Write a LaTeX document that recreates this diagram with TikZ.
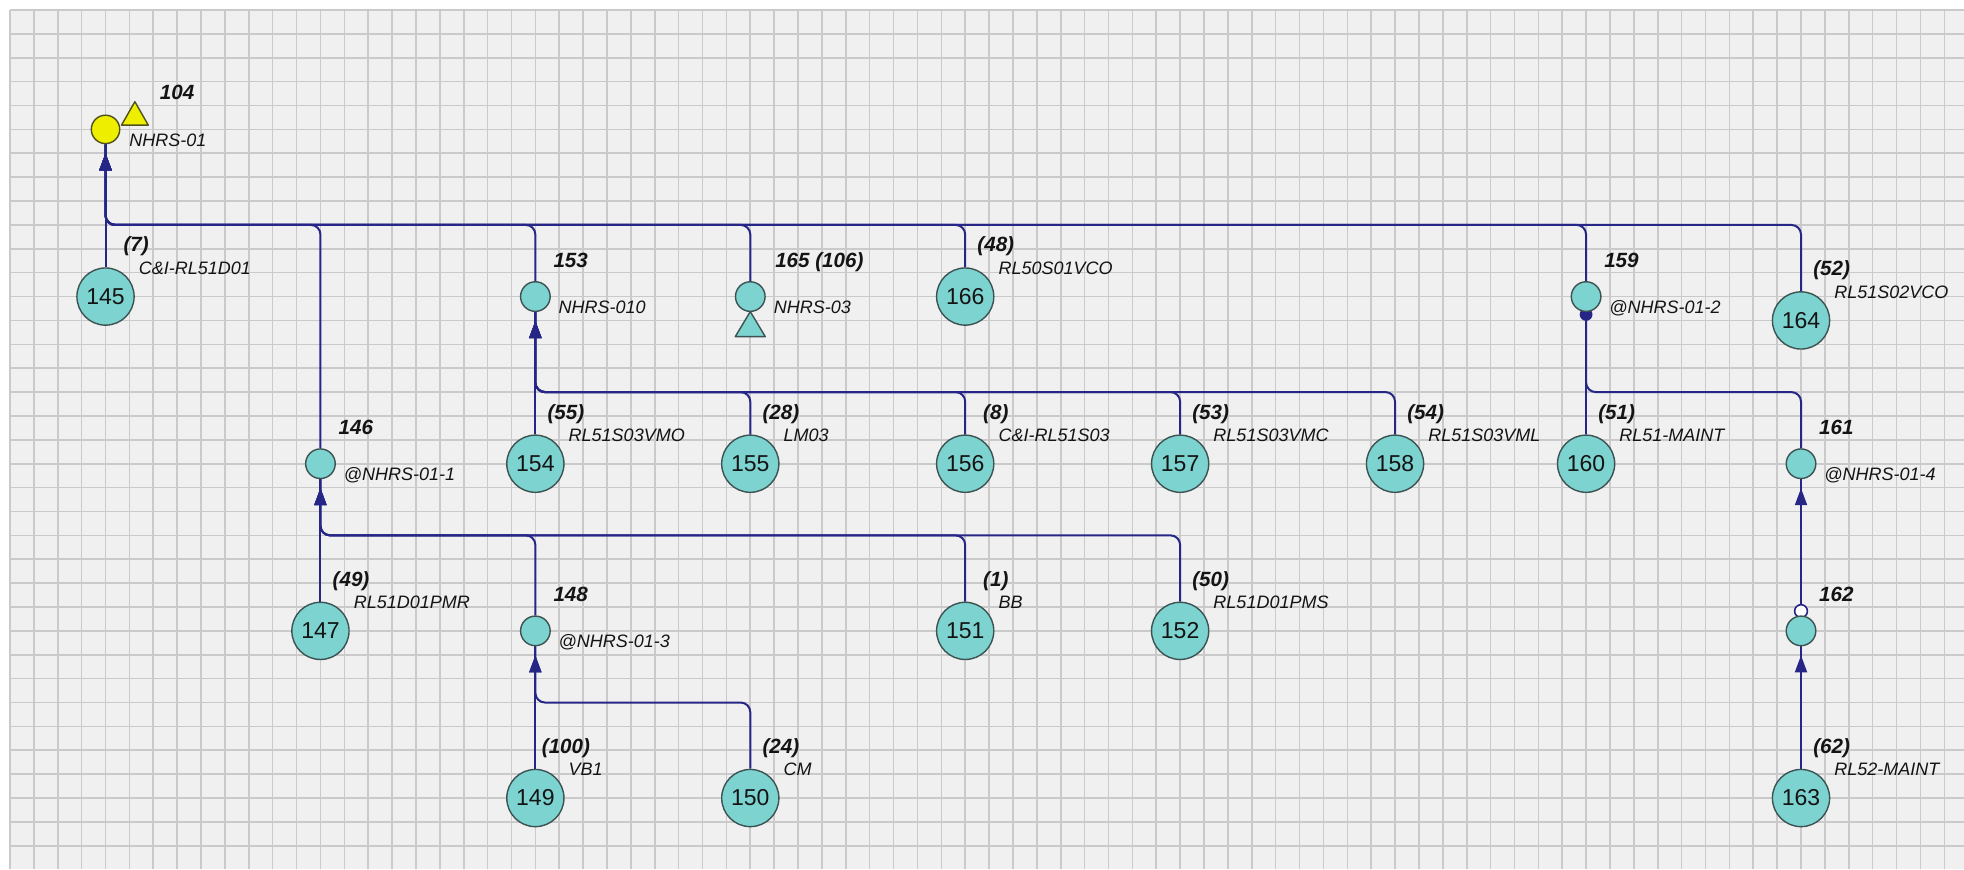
\documentclass[tikz,border=0pt]{standalone}
\usepackage{fontspec}
\setmainfont{Liberation Sans}
\usetikzlibrary{arrows.meta,decorations.markings,calc}
\pgfdeclarelayer{bg}
\pgfdeclarelayer{edges}
\pgfsetlayers{bg,edges,main}
\definecolor{gridbg}{HTML}{F0F0F0}
\definecolor{gridln}{HTML}{CACACA}
\definecolor{wirec}{HTML}{262687}
\definecolor{turq}{HTML}{7CD3D0}
\definecolor{nodeln}{HTML}{3D5252}
\definecolor{yel}{HTML}{EEEE00}
\definecolor{yelln}{HTML}{50501E}
\definecolor{txt}{HTML}{141414}
\tikzset{
  gridline/.style={draw=gridln, line width=0.8pt},
  big/.style={circle, draw=nodeln, fill=turq, line width=0.7pt, minimum size=28.6pt, inner sep=0pt,
    font=\fontsize{11.5}{12}\selectfont, text=txt},
  small/.style={circle, draw=nodeln, fill=turq, line width=0.7pt, minimum size=14.8pt, inner sep=0pt},
  yelnode/.style={circle, draw=yelln, fill=yel, line width=0.7pt, minimum size=14.2pt, inner sep=0pt},
  yelshape/.style={draw=yelln, fill=yel, line width=0.7pt, line join=round},
  turqshape/.style={draw=nodeln, fill=turq, line width=0.7pt, line join=round},
  idlab/.style={font=\bfseries\itshape\fontsize{10.3}{12}\selectfont, text=txt, inner sep=0pt,
    text height=7.4pt, text depth=0pt},
  namelab/.style={font=\itshape\fontsize{9}{11}\selectfont, text=txt, inner sep=0pt, anchor=west,
    text height=6.5pt, text depth=0pt},
  wire/.style={draw=wirec, line width=1pt, rounded corners=4.8pt},
  arrin/.style={postaction={decorate}, decoration={markings,
    mark=at position -4.5pt with {\arrow{Triangle[length=8.5pt,width=6pt,color=wirec]}}}},
}
\newcommand\BigN[6]{%
  \node[big] (#1) at (#2,#3) {#4};
  \node[idlab] (#1-id) at ($(#1)+(1.28,-2.18)$) {#5};
  \node[namelab] (#1-nm) at ($(#1)+(1.38,-1.2)$) {#6};
}
\newcommand\SmallN[5]{%
  \node[small] (#1) at (#2,#3) {};
  \node[idlab] (#1-id) at ($(#1)+(1.48,-1.53)$) {#4};
  \node[namelab] (#1-nm) at ($(#1)+(0.96,0.43)$) {#5};
}
\begin{document}
\begin{tikzpicture}[x=11.94pt, y=-11.94pt]
\useasboundingbox (-0.4188,-0.4188) rectangle (81.826,35.972);
\begin{pgfonlayer}{bg}
  \fill[white] (-0.4188,-0.4188) rectangle (81.826,35.972);
  \fill[gridbg] (0,0) rectangle (81.826,35.972);
  \foreach \i in {0,...,81} \draw[gridline] (\i,0) -- (\i,35.972);
  \foreach \j in {0,...,35} \draw[gridline] (0,\j) -- (81.826,\j);
\end{pgfonlayer}

% bus levels
\coordinate (b1) at (0,9);
\coordinate (b2) at (0,16);
\coordinate (b4) at (0,22);
\coordinate (b5) at (0,29);

% root 104
\node[yelnode] (n104) at (4,5) {};
\draw[yelshape] ($(n104)+(1.23,-1.16)$) -- ($(n104)+(0.67,-0.18)$) -- ($(n104)+(1.79,-0.18)$) -- cycle;
\node[idlab] (n104-id) at (7.0,3.45) {104};
\node[namelab] (n104-nm) at (4.98,5.44) {NHRS-01};

% row 12
\BigN{n145}{4}{12}{145}{(7)}{C\&I-RL51D01}
\SmallN{n153}{22}{12}{153}{NHRS-010}
\node[small] (n165) at (31,12) {};
\draw[turqshape] ($(n165)+(0,0.63)$) -- ($(n165)+(-0.63,1.68)$) -- ($(n165)+(0.63,1.68)$) -- cycle;
\node[idlab, anchor=west] (n165-id) at (32.03,10.47) {165 (106)};
\node[namelab] (n165-nm) at (31.97,12.42) {NHRS-03};
\BigN{n166}{40}{12}{166}{(48)}{RL50S01VCO}
\SmallN{n159}{66}{12}{159}{@NHRS-01-2}
\BigN{n164}{75}{13}{164}{(52)}{RL51S02VCO}

% row 19
\SmallN{n146}{13}{19}{146}{@NHRS-01-1}
\BigN{n154}{22}{19}{154}{(55)}{RL51S03VMO}
\BigN{n155}{31}{19}{155}{(28)}{LM03}
\BigN{n156}{40}{19}{156}{(8)}{C\&I-RL51S03}
\BigN{n157}{49}{19}{157}{(53)}{RL51S03VMC}
\BigN{n158}{58}{19}{158}{(54)}{RL51S03VML}
\BigN{n160}{66}{19}{160}{(51)}{RL51-MAINT}
\SmallN{n161}{75}{19}{161}{@NHRS-01-4}

% row 26
\BigN{n147}{13}{26}{147}{(49)}{RL51D01PMR}
\SmallN{n148}{22}{26}{148}{@NHRS-01-3}
\BigN{n151}{40}{26}{151}{(1)}{BB}
\BigN{n152}{49}{26}{152}{(50)}{RL51D01PMS}
\node[small] (n162) at (75,26) {};
\node[idlab] (n162-id) at ($(n162)+(1.48,-1.53)$) {162};

% row 33
\BigN{n149}{22}{33}{149}{(100)}{VB1}
\BigN{n150}{31}{33}{150}{(24)}{CM}
\BigN{n163}{75}{33}{163}{(62)}{RL52-MAINT}

\begin{pgfonlayer}{edges}
  % to 104
  \draw[wire,arrin] (n145.north) -- (n104.south);
  \foreach \c in {n146,n153,n165,n166,n159,n164}
    \draw[wire,arrin] (\c.north) -- (\c|-b1) -- (n104|-b1) -- (n104.south);
  % to 153
  \draw[wire,arrin] (n154.north) -- (n153.south);
  \foreach \c in {n155,n156,n157,n158}
    \draw[wire,arrin] (\c.north) -- (\c|-b2) -- (n153|-b2) -- (n153.south);
  % to 159
  \draw[wire] (n160.north) -- (n159.south);
  \draw[wire] (n161.north) -- (n161|-b2) -- (n159|-b2) -- (n159.south);
  % to 146
  \draw[wire,arrin] (n147.north) -- (n146.south);
  \foreach \c in {n148,n151,n152}
    \draw[wire,arrin] (\c.north) -- (\c|-b4) -- (n146|-b4) -- (n146.south);
  % to 148
  \draw[wire,arrin] (n149.north) -- (n148.south);
  \draw[wire,arrin] (n150.north) -- (n150|-b5) -- (n148|-b5) -- (n148.south);
  % 162 -> 161, 163 -> 162
  \draw[wire,arrin] (n162.north) -- (n161.south);
  \draw[wire,arrin] (n163.north) -- (n162.south);
  % end markers
  \fill[wirec] ($(n159.south)+(0,0.1)$) circle (3.2pt);
  \filldraw[draw=wirec, fill=white, line width=0.8pt] ($(n162.north)+(0,-0.18)$) circle (3.2pt);
\end{pgfonlayer}
\end{tikzpicture}
\end{document}
